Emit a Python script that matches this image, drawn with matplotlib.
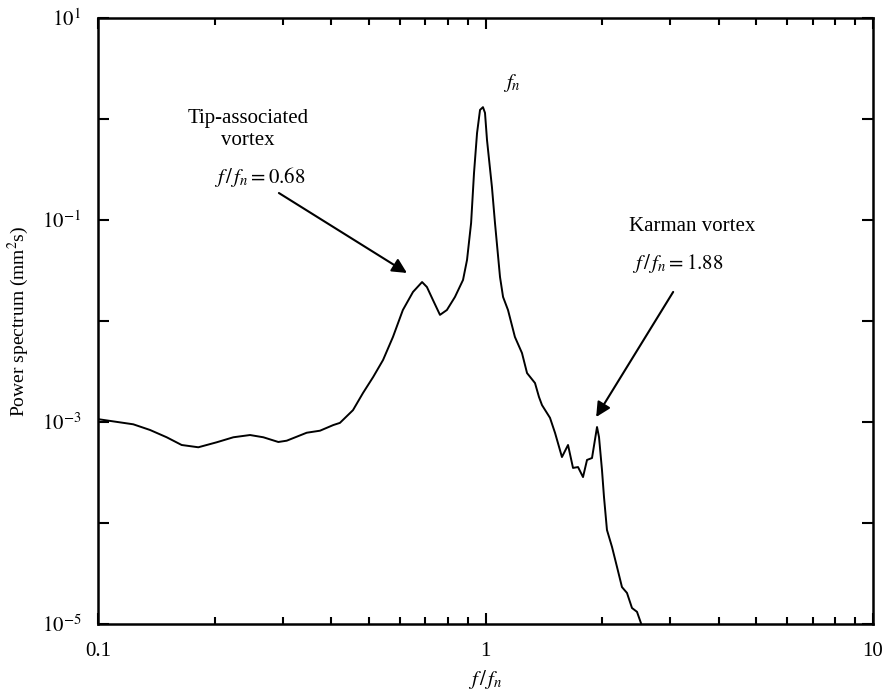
import math
import matplotlib
matplotlib.use("Agg")
import matplotlib.pyplot as plt
from matplotlib.ticker import FixedLocator, FuncFormatter, NullLocator, LogLocator, NullFormatter

plt.rcParams['font.family'] = ['Liberation Serif', 'DejaVu Serif']
plt.rcParams['mathtext.fontset'] = 'stix'

# Frequency ratio f/fn
freq = [0.100, 0.1012, 0.1233, 0.1362, 0.1504, 0.1644, 0.1815, 0.2025, 0.2235, 0.2468,
        0.2671, 0.2920, 0.3069, 0.3257, 0.3456, 0.3740, 0.4048, 0.421, 0.455, 0.483,
        0.513, 0.544, 0.577, 0.612, 0.650, 0.686, 0.706, 0.732, 0.763, 0.795,
        0.834, 0.875, 0.896, 0.918, 0.934, 0.951, 0.968, 0.985, 0.997, 1.009,
        1.039, 1.058, 1.090, 1.110, 1.143, 1.191, 1.242, 1.280, 1.342, 1.374,
        1.399, 1.467, 1.512, 1.575, 1.633, 1.682, 1.733, 1.785, 1.828, 1.883,
        1.940, 1.963, 1.998, 2.022, 2.058, 2.121, 2.185, 2.250, 2.318, 2.388,
        2.460, 2.519]
# Power spectrum (mm^2 s)
power = [1.07e-3, 1.06e-3, 9.49e-4, 8.34e-4, 7.06e-4, 5.92e-4, 5.62e-4, 6.30e-4, 7.06e-4, 7.43e-4,
         7.06e-4, 6.34e-4, 6.53e-4, 7.15e-4, 7.83e-4, 8.20e-4, 9.33e-4, 9.8e-4, 1.31e-3, 1.94e-3,
         2.79e-3, 4.11e-3, 6.95e-3, 1.285e-2, 1.94e-2, 2.43e-2, 2.17e-2, 1.61e-2, 1.15e-2, 1.285e-2,
         1.73e-2, 2.55e-2, 4.02e-2, 9.33e-2, 0.292, 0.726, 1.23, 1.31, 1.15, 0.619,
         0.212, 9.33e-2, 2.73e-2, 1.73e-2, 1.285e-2, 6.95e-3, 4.82e-3, 3.05e-3, 2.43e-3, 1.77e-3,
         1.47e-3, 1.10e-3, 7.78e-4, 4.50e-4, 5.92e-4, 3.51e-4, 3.58e-4, 2.85e-4, 4.21e-4, 4.40e-4,
         8.92e-4, 7.10e-4, 3.35e-4, 1.81e-4, 8.53e-5, 5.78e-5, 3.66e-5, 2.32e-5, 2.03e-5, 1.44e-5,
         1.32e-5, 1.02e-5]

xlim = (0.1, 10)
ylim = (1e-5, 10)
x_major = [0.1, 1, 10]
x_labels = ['0.1', '1', '10']
y_decades = [1e-5, 1e-4, 1e-3, 1e-2, 1e-1, 1e0, 1e1]
y_labeled_exps = [-5, -3, -1, 1]

fig = plt.figure(figsize=(8.89, 6.94), dpi=100)
ax = fig.add_axes([98/889, 1-624/694, (873-98)/889, (624-18)/694])

ax.plot(freq, power, color='black', lw=1.4, solid_joinstyle='round')
ax.set_xscale('log')
ax.set_yscale('log')
ax.set_xlim(*xlim)
ax.set_ylim(*ylim)

ax.xaxis.set_major_locator(FixedLocator(x_major))
ax.xaxis.set_major_formatter(FuncFormatter(lambda v, p: x_labels[x_major.index(v)] if v in x_major else ''))
ax.xaxis.set_minor_locator(LogLocator(base=10, subs=range(2, 10)))
ax.xaxis.set_minor_formatter(NullFormatter())

def yfmt(v, p):
    e = int(round(math.log10(v)))
    if e in y_labeled_exps:
        return r'$10^{%d}$' % e if e >= 0 else r'$10^{-%d}$' % (-e)
    return ''
ax.yaxis.set_major_locator(FixedLocator(y_decades))
ax.yaxis.set_major_formatter(FuncFormatter(yfmt))
ax.yaxis.set_minor_locator(NullLocator())

ax.tick_params(which='both', direction='in', top=True, right=True, width=1.5, labelsize=15, colors='black')
ax.tick_params(which='major', length=8)
ax.tick_params(which='minor', length=5)
ax.tick_params(axis='x', which='major', pad=13)
ax.tick_params(axis='y', which='major', pad=12)
for s in ax.spines.values():
    s.set_linewidth(1.8)

ax.set_xlabel(r'$f\,/\,f_n$', fontsize=15, labelpad=5)
ax.set_ylabel(r'Power spectrum (mm$^2$s)', fontsize=14, labelpad=8)

ax.text(1.171, 2.27, r'$f_n$', fontsize=15, ha='center', va='center')
ax.text(0.244, 0.787, 'Tip-associated\nvortex', fontsize=15, ha='center', va='center', linespacing=1.25)
ax.text(0.262, 0.267, r'$f\,/\,f_n = 0.68$', fontsize=15, ha='center', va='center')
ax.annotate('', xy=(0.627, 0.0299), xytext=(0.293, 0.185),
            arrowprops=dict(arrowstyle='-|>', color='black', lw=1.5, mutation_scale=22, shrinkA=0, shrinkB=0))
ax.text(3.41, 0.0853, 'Karman vortex', fontsize=15, ha='center', va='center')
ax.text(3.14, 0.0375, r'$f\,/\,f_n = 1.88$', fontsize=15, ha='center', va='center')
ax.annotate('', xy=(1.93, 1.12e-3), xytext=(3.05, 0.0194),
            arrowprops=dict(arrowstyle='-|>', color='black', lw=1.5, mutation_scale=22, shrinkA=0, shrinkB=0))

fig.savefig('out.png', dpi=100)
